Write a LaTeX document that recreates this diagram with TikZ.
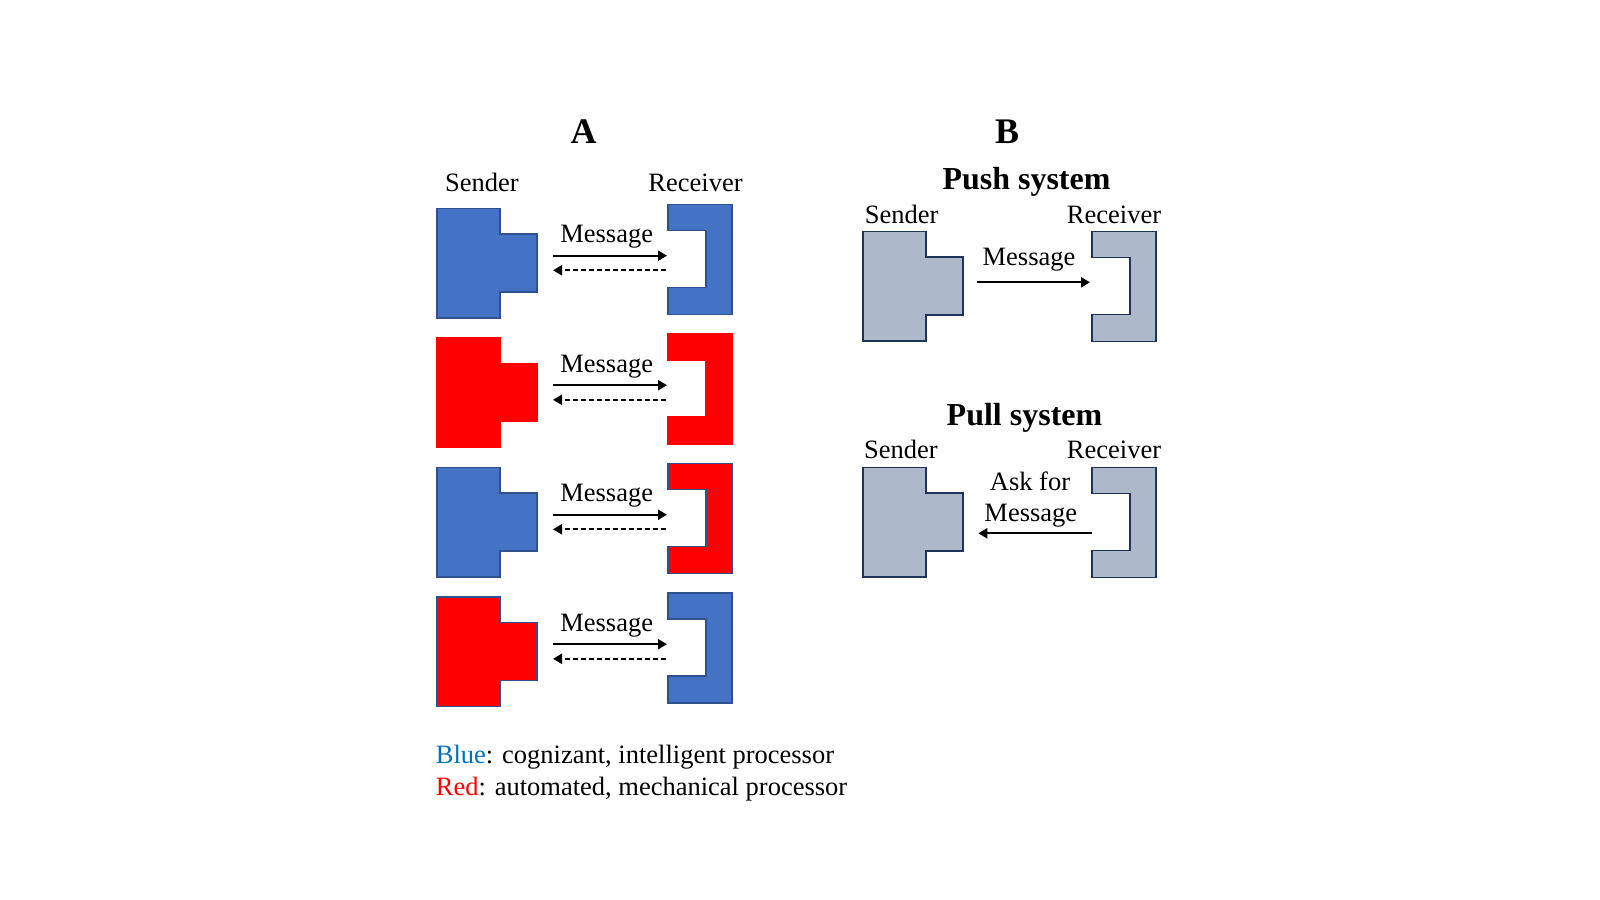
\documentclass[tikz,border=0pt]{standalone}
\usepackage{fontspec}
\setmainfont{Liberation Serif}
\usetikzlibrary{arrows.meta}

\definecolor{cogfill}{HTML}{4472C4}
\definecolor{cogline}{HTML}{2F528F}
\definecolor{mechfill}{HTML}{FF0000}
\definecolor{sysfill}{HTML}{ADB9CA}
\definecolor{sysline}{HTML}{1F3458}
\definecolor{legblue}{HTML}{0070C0}

\tikzset{
  sender/.pic={\path[pic actions] (0,0) -- (63,0) -- (63,25.5) -- (100,25.5) -- (100,83.5) -- (63,83.5) -- (63,109.5) -- (0,109.5) -- cycle;},
  receiver/.pic={\path[pic actions] (0,0) -- (64,0) -- (64,110) -- (0,110) -- (0,83) -- (38,83) -- (38,26) -- (0,26) -- cycle;},
  txt/.style={inner sep=0pt, anchor=base, font=\fontsize{26.5pt}{31pt}\selectfont},
  ttl/.style={inner sep=0pt, anchor=base, font=\fontsize{36pt}{40pt}\selectfont\bfseries},
  sub/.style={inner sep=0pt, anchor=base, font=\fontsize{32pt}{36pt}\selectfont\bfseries},
  msg/.style={line width=2.3pt, -{Triangle[length=9pt,width=10pt]}},
  back/.style={msg, dash pattern=on 5pt off 3pt},
}

\begin{document}
\begin{tikzpicture}[x=1pt, y=-1pt, line join=miter]
\useasboundingbox (0,0) rectangle (1600,899);

% A
\node[ttl] (titleA) at (583.7,143.9) {A};
\node[txt] (sndA) at (482,191.7) {Sender};
\node[txt] (rcvA) at (695.5,191.7) {Receiver};

\foreach \i/\sf/\sl/\rf/\rl in {0/cogfill/cogline/cogfill/cogline, 1/mechfill/mechfill/mechfill/mechfill,
                                2/cogfill/cogline/mechfill/cogline, 3/mechfill/cogline/cogfill/cogline}{
  \pgfmathsetmacro\T{208.3+129.5*\i}
  \pic[fill=\sf, draw=\sl, line width=1.5pt] at (437,\T) {sender};
  \pic[fill=\rf, draw=\rl, line width=1.5pt] at (668,\T-4) {receiver};
  \node[txt] (msg\i) at (606.7,\T+34.4) {Message};
  \coordinate (fs\i) at (553,\T+47.4);
  \coordinate (fe\i) at (667,\T+47.4);
  \coordinate (bs\i) at (666,\T+62);
  \coordinate (be\i) at (553,\T+62);
  \draw[msg] (fs\i) -- (fe\i);
  \draw[back] (bs\i) -- (be\i);
}

\node[txt, anchor=base west] (legB) at (435.7,763.5) {\textcolor{legblue}{Blue}: cognizant, intelligent processor};
\node[txt, anchor=base west] (legR) at (435.7,795.5) {\textcolor{mechfill}{Red}: automated, mechanical processor};

% B
\node[ttl] (titleB) at (1007,143.9) {B};
\node[sub] (push) at (1026.5,189.8) {Push system};
\node[txt] (sndP) at (901.7,223.3) {Sender};
\node[txt] (rcvP) at (1114,223.3) {Receiver};
\pic[fill=sysfill, draw=sysline, line width=1.5pt] at (863,231.7) {sender};
\pic[fill=sysfill, draw=sysline, line width=1.5pt] at (1092,231.7) {receiver};
\node[txt] (msgP) at (1029,265) {Message};
\coordinate (ps) at (976.7,282.3);
\coordinate (pe) at (1090,282.3);
\draw[msg] (ps) -- (pe);

\node[sub] (pull) at (1024.5,425.5) {Pull system};
\node[txt] (sndQ) at (901,458.3) {Sender};
\node[txt] (rcvQ) at (1114,458.3) {Receiver};
\pic[fill=sysfill, draw=sysline, line width=1.5pt] at (863,467.7) {sender};
\pic[fill=sysfill, draw=sysline, line width=1.5pt] at (1092,467.7) {receiver};
\node[txt] (askQ) at (1030,490) {Ask for};
\node[txt] (msgQ) at (1030.8,521.7) {Message};
\coordinate (qs) at (1092,533.3);
\coordinate (qe) at (978.3,533.3);
\draw[msg] (qs) -- (qe);
\end{tikzpicture}
\end{document}
